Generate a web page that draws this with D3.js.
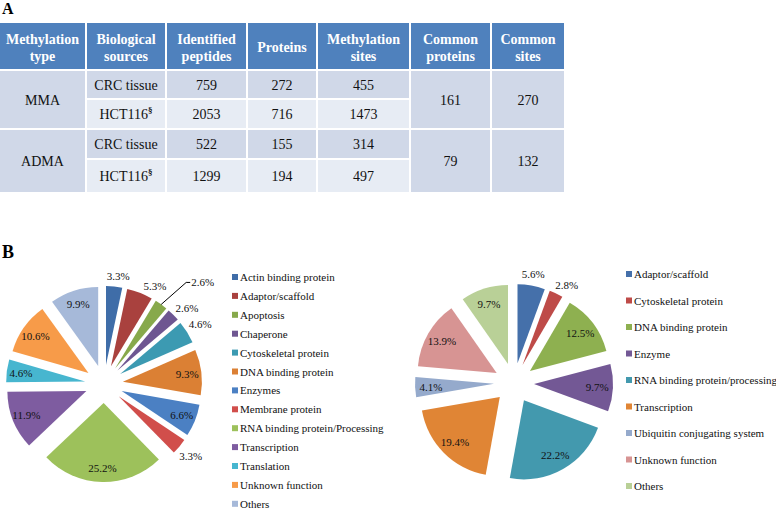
<!DOCTYPE html>
<html><head><meta charset="utf-8">
<script src="https://cdn.jsdelivr.net/npm/d3@7"></script>
<style>body{margin:0;background:#fff}</style>
</head><body><svg id="c" width="776" height="510" font-family="'Liberation Serif','DejaVu Serif',serif"></svg>
<script>
// ---------- DATA ----------
const headers = [["Methylation","type"],["Biological","sources"],["Identified","peptides"],["Proteins"],["Methylation","sites"],["Common","proteins"],["Common","sites"]];
const methTypes = ["MMA","ADMA"];
const sources = ["CRC tissue","HCT116","CRC tissue","HCT116"];
const peptides = [759, 2053, 522, 1299];
const proteins = [272, 716, 155, 194];
const sites = [455, 1473, 314, 497];
const commonProteins = [161, 79];
const commonSites = [270, 132];

const leftCategories = ["Actin binding protein","Adaptor/scaffold","Apoptosis","Chaperone","Cytoskeletal protein","DNA binding protein","Enzymes","Membrane protein","RNA binding protein/Processing","Transcription","Translation","Unknown function","Others"];
const leftValues = [3.3, 5.3, 2.6, 2.6, 4.6, 9.3, 6.6, 3.3, 25.2, 11.9, 4.6, 10.6, 9.9];
const leftColors = ["#3F6DA8","#A9413E","#87A94B","#6E5691","#3C9AB2","#DB8034","#4B80C3","#D14E4B","#9DC15B","#7E5CA0","#47B6CF","#F79B49","#A6B9D9"];

const rightCategories = ["Adaptor/scaffold","Cytoskeletal protein","DNA binding protein","Enzyme","RNA binding protein/processing","Transcription","Ubiquitin conjugating system","Unknown function","Others"];
const rightValues = [5.6, 2.8, 12.5, 9.7, 22.2, 19.4, 4.1, 13.9, 9.7];
const rightColors = ["#4570AA","#BE4B48","#8EB050","#735895","#4399AE","#E08535","#95AACC","#D79493","#B9D097"];

const FONT = "'Liberation Serif','DejaVu Serif',serif";

// ---------- TABLE ----------
const svg = d3.select("#c");
svg.append("rect").attr("width",776).attr("height",510).attr("fill","#fff");

svg.append("text").attr("x",2).attr("y",14).attr("font-family",FONT).attr("font-size",16).attr("font-weight","bold").text("A");
svg.append("text").attr("x",2).attr("y",258).attr("font-family",FONT).attr("font-size",18).attr("font-weight","bold").text("B");

const colX = [0, 87, 167, 248, 318, 411, 492, 566];
const rowY = [23, 71, 100, 130, 160, 194];
const gap = 2;
const headBlue = "#4F81BD", band1 = "#D0D8E8", band2 = "#E7ECF4";
const T = svg.append("g").attr("font-family",FONT);
function cell(c0, c1, r0, r1, fill){
  T.append("rect").attr("x",colX[c0]).attr("y",rowY[r0])
   .attr("width",colX[c1]-colX[c0]-gap).attr("height",rowY[r1]-rowY[r0]-gap).attr("fill",fill);
}
function cx(c0,c1){ return (colX[c0]+colX[c1]-gap)/2; }
// header
headers.forEach((h,i)=>{
  cell(i,i+1,0,1,headBlue);
  const t = T.append("text").attr("x",cx(i,i+1)).attr("text-anchor","middle").attr("fill","#fff")
    .attr("font-weight","bold").attr("font-size",14);
  if(h.length===1){ t.attr("y",52).text(h[0]); }
  else { h.forEach((s,k)=>t.append("tspan").attr("x",cx(i,i+1)).attr("y",44+k*17).text(s)); }
});
// body rows
const bodyCols = [sources, peptides, proteins, sites];
for(let r=0;r<4;r++){
  const fill = r%2===0 ? band1 : band2;
  const yb = (rowY[r+1]+rowY[r+2]-gap)/2 + 5;
  bodyCols.forEach((col,ci)=>{
    const c = ci+1;
    cell(c,c+1,r+1,r+2,fill);
    const t = T.append("text").attr("x",cx(c,c+1)).attr("y",yb).attr("text-anchor","middle").attr("font-size",14).attr("fill","#111");
    if(col===sources && col[r]==="HCT116"){
      t.append("tspan").text(col[r]);
      t.append("tspan").attr("dy",-6).attr("font-size",9).attr("font-weight","bold").text("§");
    } else t.text(col[r]);
  });
}
// merged cells
methTypes.forEach((m,k)=>{
  const r0 = 1+k*2, r1 = r0+2;
  const yb = (rowY[r0]+rowY[r1]-gap)/2 + 5;
  cell(0,1,r0,r1,band1);
  T.append("text").attr("x",cx(0,1)).attr("y",yb).attr("text-anchor","middle").attr("font-size",14).attr("fill","#111").text(m);
  [[commonProteins,5],[commonSites,6]].forEach(([arr,c])=>{
    cell(c,c+1,r0,r1,band1);
    T.append("text").attr("x",cx(c,c+1)).attr("y",yb).attr("text-anchor","middle").attr("font-size",14).attr("fill","#111").text(arr[k]);
  });
});

// ---------- PIES ----------
function drawPie(opts){
  const {cats, vals, colors, cxp, cyp, r, d, inR, outside, nudge, leader, legX, legY, legStep} = opts;
  const color = d3.scaleOrdinal().domain(cats).range(colors);
  const pie = d3.pie().sort(null).value(v=>v.v).startAngle(0).endAngle(2*Math.PI);
  const data = pie(cats.map((c,i)=>({c, v:vals[i]})));
  const arc = d3.arc().innerRadius(0).outerRadius(r);
  const g = svg.append("g").attr("transform",`translate(${cxp},${cyp})`).attr("font-family",FONT);
  data.forEach(s=>{
    const m = (s.startAngle+s.endAngle)/2;
    g.append("path").attr("d",arc(s)).attr("fill",color(s.data.c))
      .attr("transform",`translate(${d*Math.sin(m)},${-d*Math.cos(m)})`);
  });
  data.forEach((s,i)=>{
    let m = (s.startAngle+s.endAngle)/2 + (nudge[i]||0)*Math.PI/180;
    const txt = s.data.v.toFixed(1)+"%";
    const w = txt.length*5.3, h = 10;
    let x, y, anchor="middle";
    if(leader && leader.index===i){
      const ax = (d+r)*Math.sin(m), ay = -(d+r)*Math.cos(m);
      const ex = ax + leader.dx, ey = ay + leader.dy;
      g.append("path").attr("d",`M${ax},${ay}L${ex},${ey}L${ex+4},${ey}`).attr("fill","none").attr("stroke","#000").attr("stroke-width",1);
      x = ex+5; y = ey; anchor="start";
    } else if(outside.includes(i)){
      const ext = Math.sqrt(Math.pow(w/2*Math.sin(m),2)+Math.pow(h/2*Math.cos(m),2));
      const R = d + r + 6 + ext;
      x = R*Math.sin(m); y = -R*Math.cos(m);
    } else {
      const R = d + inR*r;
      x = R*Math.sin(m); y = -R*Math.cos(m);
    }
    g.append("text").attr("x",x).attr("y",y+4).attr("text-anchor",anchor).attr("font-size",11).attr("fill","#111").text(txt);
  });
  const L = svg.append("g").attr("font-family",FONT);
  cats.forEach((c,i)=>{
    const y = legY + i*legStep;
    L.append("rect").attr("x",legX).attr("y",y-3).attr("width",6).attr("height",6).attr("fill",color(c));
    L.append("text").attr("x",legX+8).attr("y",y+4).attr("font-size",11).attr("fill","#111").text(c);
  });
}

drawPie({cats:leftCategories, vals:leftValues, colors:leftColors, cxp:104, cyp:384, r:79, d:19, inR:0.82,
  outside:[0,1,3,4,7], nudge:{0:1.5,1:6,3:2.5}, leader:{index:2, dx:25, dy:-22},
  legX:232, legY:277, legStep:18.9});
drawPie({cats:rightCategories, vals:rightValues, colors:rightColors, cxp:514, cyp:383, r:79, d:20, inR:0.8,
  outside:[0,1], nudge:{1:3}, leader:null,
  legX:626, legY:274, legStep:26.5});
</script></body></html>
